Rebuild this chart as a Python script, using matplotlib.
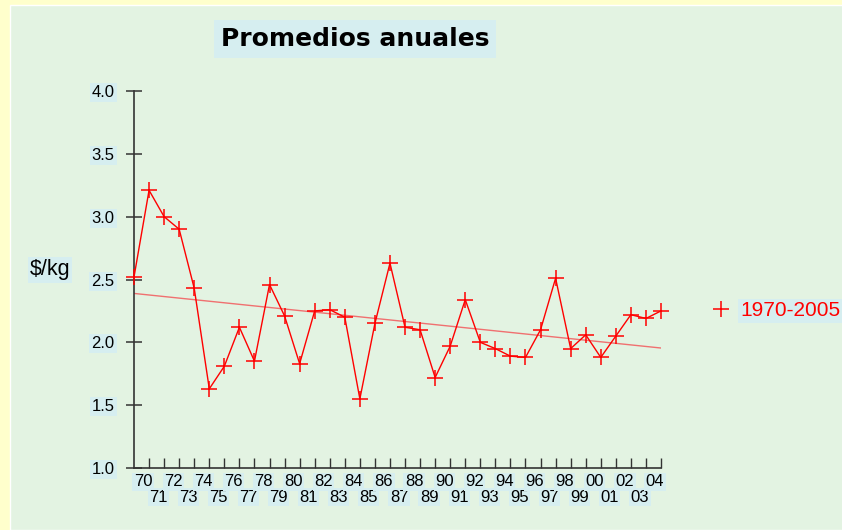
import numpy as np
import matplotlib
matplotlib.use("Agg")
import matplotlib.pyplot as plt
from matplotlib.patches import Rectangle
from matplotlib.lines import Line2D
import matplotlib.transforms as mtransforms

plt.rcParams['font.family'] = ['Liberation Sans', 'DejaVu Sans']

# ---- data ----
years = list(range(1970, 2006))
prices = [2.52, 3.21, 3.00, 2.90, 2.43, 1.63, 1.81, 2.12, 1.85, 2.46,
          2.21, 1.83, 2.25, 2.26, 2.20, 1.55, 2.15, 2.63, 2.12, 2.10,
          1.72, 1.97, 2.34, 2.00, 1.95, 1.89, 1.88, 2.10, 2.51, 1.95,
          2.06, 1.88, 2.05, 2.22, 2.19, 2.25]
tick_labels = ["70", "71", "72", "73", "74", "75", "76", "77", "78", "79",
               "80", "81", "82", "83", "84", "85", "86", "87", "88", "89",
               "90", "91", "92", "93", "94", "95", "96", "97", "98", "99",
               "00", "01", "02", "03", "04"]
yticks = [1.0, 1.5, 2.0, 2.5, 3.0, 3.5, 4.0]
series_name = "1970-2005"
title = "Promedios anuales"
ylabel = "$/kg"

W, H = 842, 530
GREEN = "#e3f3e2"
YELLOW = "#ffffcc"
LBLUE = "#d6eef0"
RED = "#ff0000"

fig = plt.figure(figsize=(W / 100, H / 100), dpi=100)
fig.patch.set_facecolor(YELLOW)
fig.patches.append(Rectangle((10 / W, 0), 1, 1 - 4.5 / H, transform=fig.transFigure,
                             facecolor=GREEN, edgecolor="white", linewidth=1, zorder=-5))

left, right, bottom, top = 134 / W, 661 / W, 1 - 468 / H, 1 - 91 / H
ax = fig.add_axes([left, bottom, right - left, top - bottom])
ax.set_zorder(2)
ax.set_facecolor("none")

x = np.arange(len(prices))
ax.plot(x, prices, color=RED, linewidth=1.0, marker="+", markersize=12,
        markeredgewidth=1.1, clip_on=False, zorder=3)

# linear trend
coef = np.polyfit(x, prices, 1)
ax.plot(x, np.polyval(coef, x), color="#f07070", linewidth=1.0, zorder=2)

ax.set_xlim(0, len(prices) - 1)
ax.set_ylim(1.0, 4.0)
for s in ["top", "right"]:
    ax.spines[s].set_visible(False)
for s in ["left", "bottom"]:
    ax.spines[s].set_color("#333333")
    ax.spines[s].set_linewidth(1.2)

ax.set_yticks(yticks)
ax.set_yticklabels([f"{v:.1f}" for v in yticks])
ax.tick_params(axis="y", direction="inout", length=12, width=1.1, color="#333333",
               labelsize=12, pad=8)
for lab in ax.get_yticklabels():
    lab.set_bbox(dict(facecolor=LBLUE, edgecolor="none", pad=1.5))

ax.set_xticks(np.arange(1, len(prices)))
ax.set_xticklabels([])
ax.tick_params(axis="x", direction="in", length=7, width=1.0, color="#333333")

trans = mtransforms.blended_transform_factory(ax.transData, ax.transAxes)
for k, lab in enumerate(tick_labels):
    yoff = -13.7 / (468 - 91) if k % 2 == 0 else -29.3 / (468 - 91)
    ax.text(k + 0.6, yoff, lab, transform=trans, ha="center", va="center",
            fontsize=12, color="black",
            bbox=dict(facecolor=LBLUE, edgecolor="none", pad=1.0), clip_on=False)

fig.text(50 / W, 1 - 270 / H, ylabel, ha="center", va="center", fontsize=15.5,
         bbox=dict(facecolor=LBLUE, edgecolor="none", pad=1.5))

fig.text(355 / W, 1 - 39 / H, title, ha="center", va="center", fontsize=18,
         fontweight="bold", family=["DejaVu Sans"],
         bbox=dict(facecolor=LBLUE, edgecolor="none", pad=5))

handle = Line2D([], [], color=RED, marker="+", linestyle="none", markersize=12,
                markeredgewidth=1.1)
leg = fig.legend([handle], [series_name], loc="center left",
                 bbox_to_anchor=(692 / W, 1 - 311 / H), frameon=False,
                 fontsize=15, handlelength=1.0, handletextpad=0.4)
for t in leg.get_texts():
    t.set_color(RED)
    t.set_bbox(dict(facecolor=LBLUE, edgecolor="none", pad=1.5))

fig.savefig("out.png", dpi=100, facecolor=fig.get_facecolor())
